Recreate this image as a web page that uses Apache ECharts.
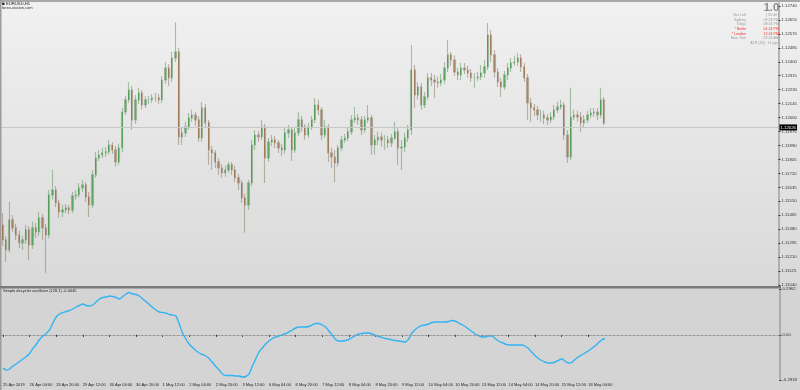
<!DOCTYPE html>
<html><head><meta charset="utf-8">
<script src="https://cdn.jsdelivr.net/npm/echarts@6/dist/echarts.min.js"></script>
<style>html,body{margin:0;padding:0;background:#d6d6d6;}#c{width:800px;height:390px;}</style>
</head><body><div id="c"></div>
<script>
const SYMBOL = "EURUSD,H1";
const SOURCE = "forex-station.com";
const OSC_TITLE = "Simple decycler oscillator (128,1) -0.0045";
const BIG_VALUE = "1.0";
const INFO_ROWS = [["Bar Left","[ 35:40 ]"],["Sydney","09:24 PM"],["Tokyo","08:24 PM"],["* Berlin","01:24 PM"],["* London","12:24 PM"],["New York","07:24 AM"],["","ATR (20):  11 pips"]];
const INFO_RED = [false,false,false,true,true,false,false];
const TICK_LABELS = ["25 Apr 2019","26 Apr 04:00","26 Apr 20:00","29 Apr 12:00","30 Apr 04:00","30 Apr 20:00","1 May 12:00","2 May 04:00","2 May 20:00","3 May 12:00","6 May 04:00","6 May 20:00","7 May 12:00","8 May 04:00","8 May 20:00","9 May 12:00","10 May 04:00","10 May 20:00","13 May 12:00","14 May 04:00","14 May 20:00","15 May 12:00","16 May 04:00"];
const PRICE_TICKS = [1.11040,1.11125,1.11210,1.11295,1.11380,1.11465,1.11550,1.11635,1.11720,1.11805,1.11890,1.11975,1.12060,1.12145,1.12230,1.12315,1.12400,1.12485,1.12570,1.12655,1.12740];
const OSC_TICKS = [-0.2918, 0, 0.2962];
const FIRST_OPEN = 1.11406;
const CLOSE = [1.11315,1.11254,1.11437,1.11388,1.11345,1.11297,1.11315,1.11376,1.11284,1.11388,
1.11364,1.11449,1.11388,1.11345,1.11589,1.11619,1.11540,1.11485,1.11498,1.11510,
1.11498,1.11583,1.11589,1.11632,1.11650,1.11577,1.11528,1.11711,1.11814,1.11832,
1.11845,1.11851,1.11893,1.11863,1.11790,1.11875,1.12094,1.12168,1.12228,1.12046,
1.12168,1.12210,1.12137,1.12168,1.12168,1.12180,1.12180,1.12168,1.12289,1.12362,
1.12302,1.12423,1.12460,1.11942,1.11967,1.12003,1.12058,1.12076,1.12046,1.11936,
1.12119,1.12028,1.11863,1.11845,1.11790,1.11753,1.11723,1.11741,1.11772,1.11741,
1.11693,1.11662,1.11571,1.11528,1.11662,1.11893,1.11954,1.11942,1.12003,1.11814,
1.11912,1.11924,1.11906,1.11875,1.11863,1.11967,1.11985,1.11863,1.11967,1.12046,
1.12003,1.11954,1.12003,1.12046,1.12137,1.12107,1.11954,1.12003,1.11845,1.11820,
1.11784,1.11875,1.11924,1.11936,1.11973,1.12046,1.12058,1.12046,1.11985,1.12046,
1.12058,1.11893,1.11924,1.11942,1.11924,1.11924,1.11906,1.11936,1.11973,1.11875,
1.11881,1.11936,1.11985,1.12350,1.12198,1.12247,1.12137,1.12186,1.12302,1.12289,
1.12277,1.12271,1.12289,1.12362,1.12442,1.12411,1.12338,1.12320,1.12362,1.12350,
1.12332,1.12302,1.12302,1.12308,1.12332,1.12369,1.12563,1.12442,1.12338,1.12277,
1.12247,1.12320,1.12362,1.12393,1.12399,1.12423,1.12369,1.12302,1.12149,1.12119,
1.12107,1.12076,1.12076,1.12058,1.12046,1.12064,1.12107,1.12125,1.12137,1.11954,
1.11820,1.12064,1.12076,1.12064,1.12028,1.12046,1.12076,1.12088,1.12094,1.12076,
1.12168,1.12026];
const HIGH = [1.11479,1.11339,1.11546,1.11467,1.11412,1.11370,1.11339,1.11406,1.11400,1.11425,
1.11418,1.11485,1.11473,1.11412,1.11619,1.11741,1.11644,1.11559,1.11528,1.11534,
1.11528,1.11607,1.11619,1.11662,1.11680,1.11668,1.11607,1.11741,1.11851,1.11863,
1.11875,1.11881,1.11924,1.11912,1.11887,1.11900,1.12119,1.12192,1.12277,1.12253,
1.12198,1.12241,1.12228,1.12192,1.12192,1.12204,1.12210,1.12204,1.12314,1.12399,
1.12387,1.12460,1.12643,1.12484,1.11997,1.12034,1.12088,1.12107,1.12094,1.12070,
1.12155,1.12143,1.12046,1.11887,1.11863,1.11814,1.11778,1.11766,1.11790,1.11790,
1.11766,1.11717,1.11680,1.11595,1.11680,1.11924,1.11985,1.11979,1.12046,1.12021,
1.11936,1.11954,1.11948,1.11924,1.11900,1.11997,1.12015,1.12003,1.11997,1.12094,
1.12070,1.12021,1.12027,1.12070,1.12180,1.12168,1.12125,1.12046,1.12021,1.11875,
1.11863,1.11893,1.11948,1.11960,1.12003,1.12076,1.12125,1.12082,1.12070,1.12070,
1.12137,1.12076,1.11954,1.11973,1.11967,1.11954,1.11948,1.11960,1.12034,1.11997,
1.11924,1.11967,1.12015,1.12502,1.12381,1.12277,1.12271,1.12216,1.12332,1.12332,
1.12320,1.12308,1.12326,1.12399,1.12533,1.12460,1.12436,1.12362,1.12393,1.12393,
1.12375,1.12356,1.12332,1.12338,1.12381,1.12411,1.12636,1.12594,1.12472,1.12362,
1.12302,1.12344,1.12393,1.12423,1.12436,1.12454,1.12448,1.12393,1.12326,1.12180,
1.12143,1.12131,1.12107,1.12101,1.12082,1.12094,1.12137,1.12155,1.12168,1.12155,
1.11985,1.12241,1.12107,1.12101,1.12094,1.12076,1.12101,1.12119,1.12119,1.12119,
1.12241,1.12186];
const LOW = [1.11278,1.11181,1.11236,1.11364,1.11315,1.11266,1.11254,1.11291,1.11193,1.11260,
1.11327,1.11339,1.11315,1.11114,1.11327,1.11559,1.11516,1.11449,1.11455,1.11479,
1.11473,1.11479,1.11559,1.11571,1.11607,1.11546,1.11455,1.11510,1.11693,1.11796,
1.11814,1.11820,1.11833,1.11839,1.11760,1.11772,1.11851,1.12076,1.12149,1.11985,
1.12021,1.12143,1.12107,1.12119,1.12143,1.12149,1.12155,1.12143,1.12149,1.12265,
1.12253,1.12277,1.12399,1.11893,1.11893,1.11942,1.11985,1.12034,1.12009,1.11912,
1.11912,1.11997,1.11772,1.11741,1.11753,1.11711,1.11693,1.11699,1.11723,1.11711,
1.11668,1.11619,1.11540,1.11358,1.11498,1.11644,1.11863,1.11912,1.11924,1.11662,
1.11790,1.11887,1.11875,1.11845,1.11826,1.11839,1.11936,1.11796,1.11845,1.11948,
1.11973,1.11924,1.11936,1.11985,1.12027,1.12076,1.11924,1.11936,1.11790,1.11753,
1.11668,1.11760,1.11857,1.11906,1.11918,1.11954,1.12027,1.12015,1.11954,1.11967,
1.12027,1.11833,1.11833,1.11893,1.11881,1.11863,1.11875,1.11881,1.11924,1.11772,
1.11741,1.11851,1.11912,1.11954,1.12119,1.12168,1.12107,1.12119,1.12168,1.12253,
1.12180,1.12241,1.12253,1.12265,1.12338,1.12375,1.12314,1.12289,1.12289,1.12326,
1.12302,1.12277,1.12241,1.12283,1.12289,1.12302,1.12350,1.12399,1.12302,1.12247,
1.12186,1.12228,1.12289,1.12338,1.12375,1.12375,1.12338,1.12277,1.12046,1.12034,
1.12070,1.12046,1.12034,1.12021,1.12015,1.12027,1.12046,1.12088,1.12107,1.11924,
1.11784,1.11802,1.12046,1.12034,1.11973,1.12003,1.12027,1.12058,1.12064,1.12046,
1.12058,1.12015];
const OSC = [-0.2143,-0.2272,-0.2207,-0.2013,-0.1884,-0.1723,-0.1561,-0.1400,-0.1206,-0.0883,
-0.0624,-0.0301,-0.0075,0.0087,0.0313,0.0765,0.1153,0.1347,0.1444,0.1508,
0.1573,0.1670,0.1799,0.1896,0.1993,0.1896,0.1864,0.1928,0.2122,0.2316,
0.2413,0.2445,0.2510,0.2477,0.2413,0.2316,0.2477,0.2639,0.2736,0.2639,
0.2607,0.2510,0.2316,0.2154,0.1960,0.1767,0.1605,0.1476,0.1444,0.1411,
0.1314,0.1282,0.1217,0.0700,0.0119,-0.0269,-0.0592,-0.0818,-0.1012,-0.1173,
-0.1270,-0.1367,-0.1529,-0.1787,-0.2046,-0.2272,-0.2530,-0.2627,-0.2627,-0.2627,
-0.2660,-0.2660,-0.2724,-0.2692,-0.2530,-0.2013,-0.1561,-0.1109,-0.0850,-0.0592,
-0.0398,-0.0236,-0.0140,-0.0075,-0.0010,0.0087,0.0184,0.0313,0.0442,0.0507,
0.0507,0.0507,0.0539,0.0636,0.0733,0.0733,0.0636,0.0507,0.0248,-0.0010,
-0.0301,-0.0398,-0.0398,-0.0366,-0.0301,-0.0172,-0.0043,0.0054,0.0087,0.0119,
0.0119,0.0054,-0.0043,-0.0107,-0.0172,-0.0236,-0.0269,-0.0333,-0.0366,-0.0398,
-0.0430,-0.0463,-0.0269,0.0119,0.0345,0.0507,0.0604,0.0636,0.0700,0.0797,
0.0830,0.0830,0.0830,0.0830,0.0862,0.0927,0.0894,0.0765,0.0668,0.0539,
0.0377,0.0216,0.0054,-0.0043,-0.0140,-0.0140,-0.0075,-0.0075,-0.0236,-0.0398,
-0.0495,-0.0592,-0.0656,-0.0656,-0.0656,-0.0656,-0.0656,-0.0721,-0.0883,-0.1109,
-0.1335,-0.1529,-0.1658,-0.1755,-0.1820,-0.1820,-0.1755,-0.1658,-0.1561,-0.1690,
-0.1820,-0.1787,-0.1593,-0.1432,-0.1303,-0.1173,-0.1044,-0.0883,-0.0721,-0.0527,
-0.0333,-0.0236];

const SLOTS = 234;          // visible bar slots incl. empty future space
const BARS_PER_LABEL = 8;
const FONT = "'Liberation Sans', Arial, sans-serif";

const cats = [];
for (let i = 0; i < SLOTS; i++) cats.push(String(i));
const opens = CLOSE.map((c, i) => i === 0 ? FIRST_OPEN : CLOSE[i - 1]);
const wickData = CLOSE.map((c, i) => [opens[i], c, LOW[i], HIGH[i]]);
const bodyData = CLOSE.map((c, i) => [opens[i], c, Math.min(opens[i], c), Math.max(opens[i], c)]);
const lastClose = CLOSE[CLOSE.length - 1];

const tickShown = (i) => i % BARS_PER_LABEL === 0 && i / BARS_PER_LABEL < TICK_LABELS.length;

const chart = echarts.init(document.getElementById('c'), null, {renderer: 'canvas'});

const graphics = [
  {type:'rect', z:200, shape:{x:0,y:0,width:800,height:2}, style:{fill:'#a8a8a8'}},
  {type:'rect', z:200, shape:{x:0,y:0,width:1.5,height:390}, style:{fill:'#9c9c9c'}},
  {type:'rect', z:200, shape:{x:0,y:286,width:781,height:2.5}, style:{fill:'#7a7a7a'}},
  {type:'rect', z:200, shape:{x:2,y:2.5,width:2.5,height:2.5}, style:{fill:'#333'}},
  {type:'text', z:200, x:6, y:4, style:{text:SYMBOL, fill:'#222', font:'4.2px ' + FONT, verticalAlign:'middle'}},
  {type:'text', z:200, x:2, y:8, style:{text:SOURCE, fill:'#333', font:'4px ' + FONT, verticalAlign:'middle'}},
  {type:'text', z:200, x:3, y:291, style:{text:OSC_TITLE, fill:'#222', font:'4px ' + FONT, verticalAlign:'middle'}},
  {type:'text', z:200, x:779, y:7.5, style:{text:BIG_VALUE, fill:'#8a8a8a', font:'bold 11px ' + FONT, align:'right', verticalAlign:'middle'}}
];
INFO_ROWS.forEach((row, k) => {
  const y = 15 + k * 4.65;
  const col = INFO_RED[k] ? '#f03030' : '#9a9a9a';
  if (row[0]) graphics.push({type:'text', z:200, x:746, y:y, style:{text:row[0], fill:col, font:'3.6px ' + FONT, align:'right', verticalAlign:'middle'}});
  graphics.push({type:'text', z:200, x:779, y:y, style:{text:row[1], fill:col, font:'3.6px ' + FONT, align:'right', verticalAlign:'middle'}});
});

const option = {
  animation: false,
  backgroundColor: {type:'linear', x:0, y:0, x2:0, y2:1, colorStops:[
    {offset:0, color:'#f1f1f1'}, {offset:0.733, color:'#d9d9d9'},
    {offset:0.734, color:'#d4d4d4'}, {offset:1, color:'#d4d4d4'}]},
  textStyle: {fontFamily: FONT},
  graphic: graphics,
  grid: [
    {left:1, right:19, top:3, height:284},
    {left:1, right:19, top:289, height:91}
  ],
  xAxis: [
    {type:'category', gridIndex:0, data:cats, boundaryGap:true, axisLine:{show:false}, axisTick:{show:false}, axisLabel:{show:false}, splitLine:{show:false}},
    {type:'category', gridIndex:1, data:cats, boundaryGap:true,
      axisLine:{show:true, lineStyle:{color:'#b8b8b8', width:1}},
      axisTick:{show:true, interval:(i)=>tickShown(i), alignWithLabel:true, length:2, lineStyle:{color:'#333'}},
      axisLabel:{show:true, interval:(i)=>tickShown(i), formatter:(v, i)=> TICK_LABELS[i / BARS_PER_LABEL] || '', align:'left', fontSize:4, color:'#222', margin:3, fontFamily:FONT},
      splitLine:{show:false}}
  ],
  yAxis: [
    {type:'value', gridIndex:0, position:'right', min:1.11028, max:1.12758, scale:true,
      axisLine:{show:true, lineStyle:{color:'#a0a0a0', width:1.5}},
      axisTick:{show:true, customValues:PRICE_TICKS, length:2, inside:false, lineStyle:{color:'#333'}},
      axisLabel:{show:true, customValues:PRICE_TICKS, formatter:(v)=>v.toFixed(5), fontSize:4.3, color:'#333', margin:3, fontFamily:FONT},
      splitLine:{show:false}},
    {type:'value', gridIndex:1, position:'right', min:-0.2918, max:0.2962,
      axisLine:{show:true, lineStyle:{color:'#a0a0a0', width:1.5}},
      axisTick:{show:true, customValues:OSC_TICKS, length:2, lineStyle:{color:'#333'}},
      axisLabel:{show:true, customValues:OSC_TICKS, formatter:(v)=> v === 0 ? '0.00' : v.toFixed(4), fontSize:4.3, color:'#333', margin:3, fontFamily:FONT},
      splitLine:{show:false}}
  ],
  series: [
    {type:'candlestick', name:'wick', xAxisIndex:0, yAxisIndex:0, data:wickData, barWidth:1.8,
      itemStyle:{color:'rgba(120,165,120,0.25)', color0:'rgba(155,130,100,0.25)', borderColor:'rgba(90,145,90,0.5)', borderColor0:'rgba(135,115,90,0.5)', borderWidth:1.1},
      emphasis:{disabled:true}, silent:true},
    {type:'candlestick', name:'EURUSD', xAxisIndex:0, yAxisIndex:0, data:bodyData, barWidth:1,
      itemStyle:{color:'#33963a', color0:'#97683f', borderColor:'#33963a', borderColor0:'#97683f', borderWidth:0.7},
      emphasis:{disabled:true}, silent:true,
      markLine:{silent:true, symbol:['none','none'], animation:false,
        lineStyle:{color:'#c6c6c6', type:'solid', width:1},
        label:{show:true, position:'end', formatter:()=>lastClose.toFixed(5), backgroundColor:'#000', color:'#fff', fontSize:4.3, padding:[1,1,1,1], distance:1, fontFamily:FONT},
        data:[{yAxis:lastClose}]}},
    {type:'line', name:'osc', xAxisIndex:1, yAxisIndex:1, data:OSC, showSymbol:false, smooth:0.3,
      lineStyle:{color:'#31b4f2', width:1.4}, silent:true,
      markLine:{silent:true, symbol:['none','none'], animation:false,
        lineStyle:{color:'#8a8a8a', type:[2,2], width:0.8}, label:{show:false},
        data:[{yAxis:0}]}}
  ]
};
chart.setOption(option);
</script></body></html>
